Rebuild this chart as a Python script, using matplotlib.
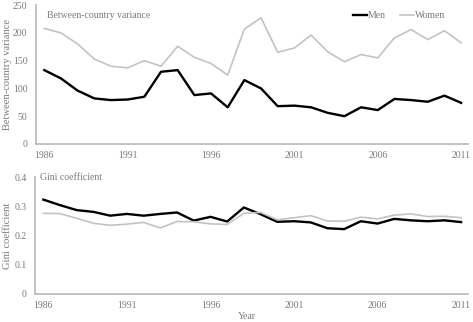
from matplotlib import pyplot as plt
import numpy as np

plt.rcParams['font.family'] = ['Liberation Serif', 'DejaVu Serif']

years = list(range(1986, 2012))

# between-country variance
var_men = [133, 118, 96, 82, 79, 80, 85, 130, 133, 88, 91, 66, 115, 100, 68, 69, 66,
           56, 50, 66, 61, 81, 79, 76, 87, 74]
var_women = [208, 200, 180, 153, 140, 137, 150, 140, 176, 156, 145, 124, 207, 227, 165,
             173, 196, 166, 148, 161, 155, 191, 206, 188, 204, 182]

# gini coefficient
gini_men = [0.323, 0.304, 0.287, 0.281, 0.268, 0.274, 0.268, 0.274, 0.279, 0.251, 0.264,
            0.248, 0.296, 0.273, 0.247, 0.249, 0.245, 0.225, 0.222, 0.249, 0.241, 0.257,
            0.252, 0.249, 0.252, 0.246]
gini_women = [0.276, 0.275, 0.259, 0.242, 0.235, 0.239, 0.245, 0.226, 0.248, 0.247, 0.240,
              0.238, 0.276, 0.279, 0.254, 0.261, 0.268, 0.250, 0.249, 0.263, 0.257, 0.270,
              0.274, 0.265, 0.266, 0.261]

xticks = [1986, 1991, 1996, 2001, 2006, 2011]

text_col = '#7a7a7a'
spine_col = '#b8b8b8'
women_col = '#c3c3c3'
fs = 7

fig = plt.figure(figsize=(4.73, 3.22), dpi=100)
ax1 = fig.add_axes([0.076, 0.553, 0.913, 0.431])
ax2 = fig.add_axes([0.074, 0.087, 0.915, 0.363])

def style(ax):
    for s in ['top', 'right']:
        ax.spines[s].set_visible(False)
    for s in ['left', 'bottom']:
        ax.spines[s].set_color(spine_col)
        ax.spines[s].set_linewidth(1.2)
    ax.tick_params(axis='y', length=0, labelsize=fs, colors=text_col, pad=6)
    ax.tick_params(axis='x', length=0, labelsize=fs, colors=text_col, pad=5)
    ax.set_xlim(1985.5, 2011.4)
    ax.set_xticks(xticks)

ax1.plot(years, var_men, color='black', lw=1.7, label='Men')
ax1.plot(years, var_women, color=women_col, lw=1.2, label='Women')
ax1.set_ylim(0, 250)
ax1.set_yticks([0, 50, 100, 150, 200, 250])
style(ax1)
ax1.set_ylabel('Between-country variance', fontsize=7.6, color=text_col)
ax1.yaxis.set_label_coords(-0.055, 0.5)
ax1.text(0.025, 0.924, 'Between-country variance', transform=ax1.transAxes,
         fontsize=fs, color=text_col, va='center')
ax1.legend(loc='center right', bbox_to_anchor=(0.947, 0.924), ncol=2, frameon=False,
           fontsize=fs, labelcolor=text_col, handlelength=1.45, handletextpad=0.1,
           columnspacing=1.4, borderaxespad=0, borderpad=0)

ax2.plot(years, gini_men, color='black', lw=1.7)
ax2.plot(years, gini_women, color=women_col, lw=1.2)
ax2.set_ylim(0, 0.4)
ax2.set_yticks([0, 0.1, 0.2, 0.3, 0.4])
ax2.set_yticklabels(['0', '0.1', '0.2', '0.3', '0.4'])
style(ax2)
ax2.set_ylabel('Gini coefficient', fontsize=7.6, color=text_col)
ax2.yaxis.set_label_coords(-0.052, 0.5)
ax2.text(0.012, 1.0, 'Gini coefficient', transform=ax2.transAxes,
         fontsize=fs, color=text_col, va='center')
fig.text(247 / 473, 0.016, 'Year', fontsize=fs, color=text_col, ha='center', va='center')

fig.savefig('out.png', dpi=100)
